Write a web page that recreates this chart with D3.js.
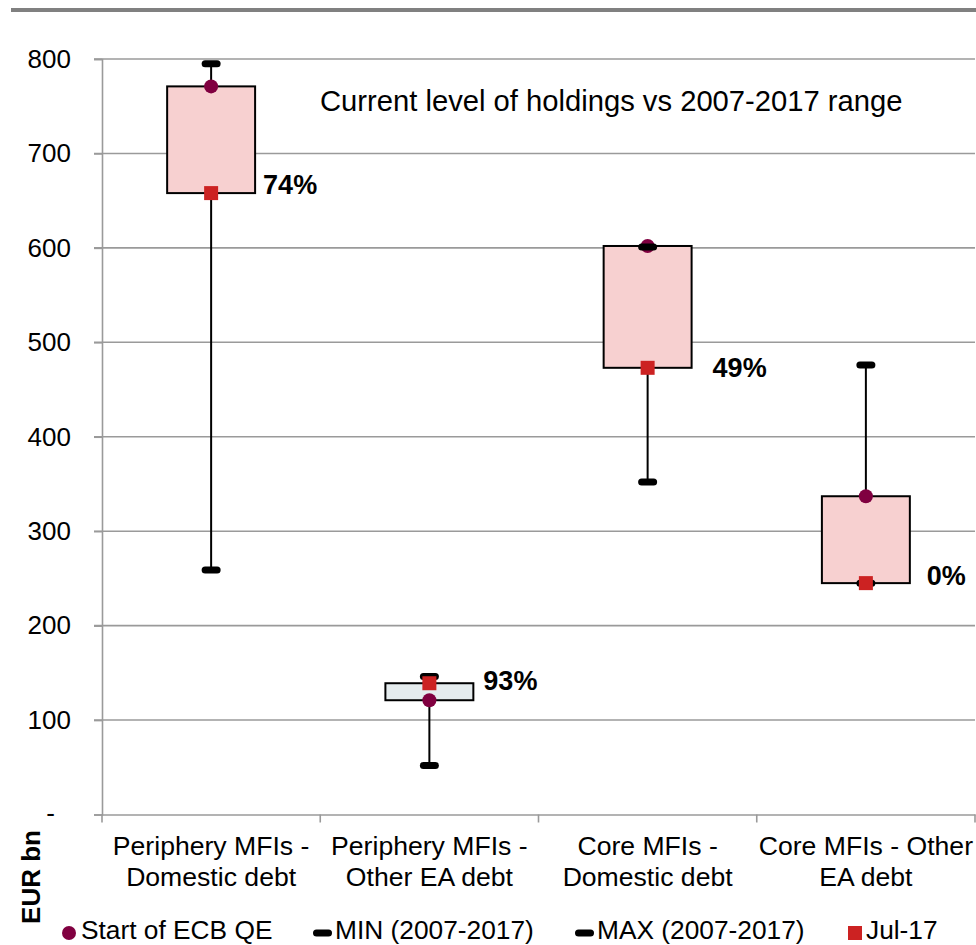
<!DOCTYPE html>
<html>
<head>
<meta charset="utf-8">
<script src="https://cdn.jsdelivr.net/npm/d3@7"></script>
<style>
  html, body { margin: 0; padding: 0; background: #fff; }
  svg { display: block; font-family: "Liberation Sans", Arial, sans-serif; }
</style>
</head>
<body>
<svg id="chart" width="976" height="945"></svg>
<script>
// ---- data ----
const categories = [
  ["Periphery MFIs -", "Domestic debt"],
  ["Periphery MFIs -", "Other EA debt"],
  ["Core MFIs -", "Domestic debt"],
  ["Core MFIs - Other", "EA debt"]
];
const minValues = [259, 52, 352, 245];
const maxValues = [795, 146, 601, 476];
const qeStartValues = [771, 121, 602, 337];
const jul17Values = [658, 139, 473, 245];
const pctLabels = ["74%", "93%", "49%", "0%"];
const yTicks = [0, 100, 200, 300, 400, 500, 600, 700, 800];
const yTickLabels = ["-", "100", "200", "300", "400", "500", "600", "700", "800"];
const legendItems = ["Start of ECB QE", "MIN (2007-2017)", "MAX (2007-2017)", "Jul-17"];
const annotation = "Current level of holdings vs 2007-2017 range";
const yAxisTitle = "EUR bn";

// ---- layout / style constants ----
const plotLeft = 102, plotRight = 975, plotTop = 59, plotBottom = 814.5;
const labelOffsets = [[8, 1], [10, 7], [21, 9], [17, 2]]; // [dx from box right, dy baseline from Jul-17 point]
const gridColor = "#9a9a9a";
const pinkFill = "#f7d0d0", grayFill = "#e5ecee";
const qeColor = "#800040", julColor = "#cc2222";

const svg = d3.select("#chart");

// top rule
svg.append("rect").attr("x", 11).attr("y", 8).attr("width", 965).attr("height", 4).attr("fill", "#808080");

const x = d3.scaleBand().domain(d3.range(categories.length)).range([plotLeft, plotRight]).padding(0);
const y = d3.scaleLinear().domain([0, 800]).range([plotBottom, plotTop]);

// gridlines
svg.append("g").selectAll("line").data(yTicks.filter(d => d > 0)).join("line")
  .attr("x1", plotLeft - 8).attr("x2", plotRight)
  .attr("y1", d => y(d)).attr("y2", d => y(d))
  .attr("stroke", gridColor).attr("stroke-width", 1.6);

// y axis
const yAxis = svg.append("g").attr("transform", `translate(${plotLeft},0)`)
  .call(d3.axisLeft(y).tickValues(yTicks).tickSize(8).tickPadding(23)
    .tickFormat((d, i) => yTickLabels[i]));
yAxis.select(".domain").attr("stroke", gridColor).attr("stroke-width", 1.6);
yAxis.selectAll(".tick line").attr("stroke", gridColor).attr("stroke-width", 1.6);
yAxis.selectAll(".tick text").attr("font-size", 26).attr("fill", "#000")
  .attr("font-family", "'Liberation Sans', Arial, sans-serif");
yAxis.selectAll(".tick text").filter(d => d === 0).attr("dx", -16).attr("dy", "0.25em");

// x axis
const xAxis = svg.append("g").attr("transform", `translate(0,${plotBottom})`)
  .call(d3.axisBottom(x).tickValues([]).tickSize(0));
xAxis.select(".domain").attr("stroke", gridColor).attr("stroke-width", 1.6);
const xTickPos = d3.range(categories.length + 1).map(i => i < categories.length ? x(i) : plotRight);
svg.append("g").selectAll("line").data(xTickPos).join("line")
  .attr("x1", d => d).attr("x2", d => d).attr("y1", plotBottom).attr("y2", plotBottom + 8)
  .attr("stroke", gridColor).attr("stroke-width", 1.6);

// category labels
const catG = svg.append("g");
categories.forEach((lines, i) => {
  const t = catG.append("text").attr("text-anchor", "middle").attr("font-size", 26.6).attr("fill", "#000");
  lines.forEach((ln, j) => {
    t.append("tspan").attr("x", x(i) + x.bandwidth() / 2).attr("y", 855 + j * 31).text(ln);
  });
});

// y axis title
svg.append("text").attr("transform", "translate(40,877) rotate(-90)")
  .attr("text-anchor", "middle").attr("font-size", 26).attr("font-weight", "bold").text(yAxisTitle);

// annotation
svg.append("text").attr("x", 320).attr("y", 111).attr("font-size", 29.2).attr("fill", "#000").text(annotation);

// marks
const boxW = x.bandwidth() * 0.403;
const cx = i => x(i) + x.bandwidth() / 2;
const idx = d3.range(categories.length);

const marks = svg.append("g");
// whiskers
marks.selectAll(".whisker").data(idx).join("line")
  .attr("x1", cx).attr("x2", cx)
  .attr("y1", i => y(minValues[i])).attr("y2", i => y(maxValues[i]))
  .attr("stroke", "#000").attr("stroke-width", 2);
// boxes
marks.selectAll(".box").data(idx).join("rect")
  .attr("x", i => cx(i) - boxW / 2).attr("width", boxW)
  .attr("y", i => y(Math.max(qeStartValues[i], jul17Values[i])))
  .attr("height", i => Math.abs(y(qeStartValues[i]) - y(jul17Values[i])))
  .attr("fill", i => jul17Values[i] >= qeStartValues[i] ? grayFill : pinkFill)
  .attr("stroke", "#000").attr("stroke-width", 2);
// QE start circles
marks.selectAll(".qe").data(idx).join("circle")
  .attr("cx", cx).attr("cy", i => y(qeStartValues[i])).attr("r", 7).attr("fill", qeColor);
// min / max dashes
const dash = (sel, arr) => sel.data(idx).join("rect")
  .attr("x", i => cx(i) - 9.5).attr("y", i => y(arr[i]) - 3.5)
  .attr("width", 19).attr("height", 7).attr("rx", 3.5).attr("fill", "#000");
dash(marks.append("g").selectAll("rect"), minValues);
dash(marks.append("g").selectAll("rect"), maxValues);
// Jul-17 squares
marks.selectAll(".jul").data(idx).join("rect")
  .attr("x", i => cx(i) - 7).attr("y", i => y(jul17Values[i]) - 7)
  .attr("width", 14).attr("height", 14).attr("fill", julColor);
// percent labels
marks.selectAll(".pct").data(idx).join("text")
  .attr("x", i => cx(i) + boxW / 2 + labelOffsets[i][0])
  .attr("y", i => y(jul17Values[i]) + labelOffsets[i][1])
  .attr("font-size", 27).attr("font-weight", "bold").attr("fill", "#000")
  .text(i => pctLabels[i]);

// legend
const lg = svg.append("g");
const legY = 933;
lg.append("circle").attr("cx", 69).attr("cy", legY).attr("r", 7).attr("fill", qeColor);
lg.append("rect").attr("x", 313).attr("y", legY - 3.5).attr("width", 19).attr("height", 7).attr("rx", 3.5).attr("fill", "#000");
lg.append("rect").attr("x", 575).attr("y", legY - 3.5).attr("width", 19).attr("height", 7).attr("rx", 3.5).attr("fill", "#000");
lg.append("rect").attr("x", 848).attr("y", legY - 7).attr("width", 14).attr("height", 14).attr("fill", julColor);
const legX = [81, 335, 597, 866];
lg.selectAll("text").data(legendItems).join("text")
  .attr("x", (d, i) => legX[i]).attr("y", 939).attr("font-size", 26.3).attr("fill", "#000").text(d => d);
</script>
</body>
</html>
